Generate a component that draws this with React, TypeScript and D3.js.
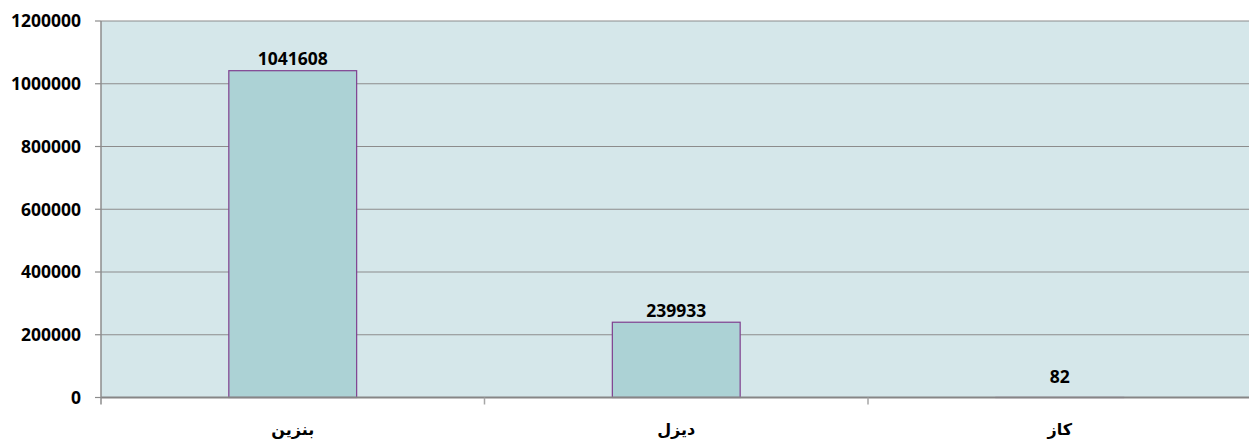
import React from 'react';
import * as d3 from 'd3';

// chart data
const categories = ['بنزين', 'ديزل', 'كاز'];
const values = [1041608, 239933, 82];
const yTicks = [0, 200000, 400000, 600000, 800000, 1000000, 1200000];

const W = 1249;
const H = 440;
const left = 101;
const top = 21;
const bottom = 397.5;
const step = 383.5;
const right = left + step * categories.length;

const App = () => {
  const x = d3.scaleBand<string>().domain(categories).range([left, right]).paddingInner(0.6667).paddingOuter(0.3333);
  const y = d3.scaleLinear().domain([0, 1200000]).range([bottom, top]);
  const num = 'Open Sans, Liberation Sans, sans-serif';

  return (
    <svg width={W} height={H} style={{ position: 'absolute', left: 0, top: 0 }}>
      <rect x={left} y={top} width={right - left} height={bottom - top} fill="#d5e7ea" />
      {/* gridlines + y labels */}
      {yTicks.map((t) => (
        <g key={t}>
          {t > 0 && <line x1={left} x2={right} y1={y(t)} y2={y(t)} stroke="#8c8c8c" strokeWidth={1.2} />}
          <line x1={95} x2={left} y1={y(t)} y2={y(t)} stroke="#8c8c8c" strokeWidth={1.2} />
          <text x={81} y={y(t)} dy="0.36em" textAnchor="end" fontFamily={num} fontWeight="bold" fontSize={17.5} fill="#000">
            {t}
          </text>
        </g>
      ))}
      {/* bars */}
      {categories.map((c, i) => (
        <rect
          key={c}
          x={x(c)}
          y={y(values[i])}
          width={x.bandwidth()}
          height={bottom - y(values[i])}
          fill="#acd2d5"
          stroke="#7f3f8f"
          strokeWidth={1.2}
        />
      ))}
      {/* axes */}
      <line x1={left} x2={right} y1={bottom} y2={bottom} stroke="#868686" strokeWidth={2} />
      <line x1={left} x2={left} y1={top} y2={bottom + 7} stroke="#8c8c8c" strokeWidth={1.5} />
      {categories.map((c, i) => (
        <line key={c} x1={left + step * (i + 1)} x2={left + step * (i + 1)} y1={bottom} y2={bottom + 7} stroke="#a6a6a6" strokeWidth={1.5} />
      ))}
      {/* value labels */}
      {categories.map((c, i) => (
        <text
          key={c}
          x={(x(c) as number) + x.bandwidth() / 2}
          y={Math.min(y(values[i]) - 12, bottom - 21)}
          dy="0.36em"
          textAnchor="middle"
          fontFamily={num}
          fontWeight="bold"
          fontSize={17.5}
          fill="#000"
        >
          {values[i]}
        </text>
      ))}
      {/* category labels */}
      {categories.map((c) => (
        <text
          key={c}
          x={(x(c) as number) + x.bandwidth() / 2}
          y={429}
          dy="0.35em"
          textAnchor="middle"
          fontFamily="DejaVu Sans, sans-serif"
          fontWeight="bold"
          fontSize={16}
          fill="#000"
          direction="rtl"
        >
          {c}
        </text>
      ))}
    </svg>
  );
};

export default App;
